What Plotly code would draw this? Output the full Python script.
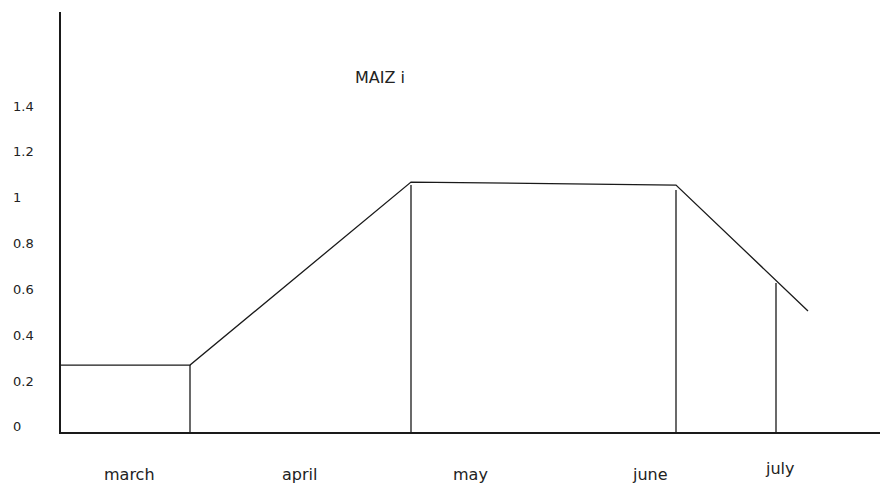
import plotly.graph_objects as go

# profile of the crop coefficient line (x in month-position units)
profile_x = [0.0, 1.29, 3.50, 6.15, 7.47]
profile_y = [0.27, 0.27, 1.068, 1.055, 0.506]

# vertical divider lines: x, top, bottom
div_x = [1.29, 3.50, 6.15, 7.15]
div_top = [0.27, 1.055, 1.034, 0.628]
div_bot = [-0.035, -0.022, -0.022, -0.022]

month_labels = ["march", "april", "may", "june", "july"]
month_x = [0.68, 2.38, 4.09, 5.89, 7.19]
month_y = [-0.102, -0.102, -0.102, -0.102, -0.088]   # paper units below axis

ytick_vals = [0, 0.2, 0.4, 0.6, 0.8, 1, 1.2, 1.4]
ytick_text = ["0", "0.2", "0.4", "0.6", "0.8", "1", "1.2", "1.4"]

title_text = "MAIZ i"
title_x, title_y = 3.19, 1.526

FONT = "DejaVu Sans"
INK = "#1a1a1a"
TXT = "#222222"

fig = go.Figure()
fig.add_trace(go.Scatter(x=profile_x, y=profile_y, mode="lines",
                         line=dict(color=INK, width=1.3), hoverinfo="skip"))
for x, t, b in zip(div_x, div_top, div_bot):
    fig.add_trace(go.Scatter(x=[x, x], y=[b, t], mode="lines",
                             line=dict(color=INK, width=1.3), hoverinfo="skip",
                             cliponaxis=False))

ann = []
for v, txt in zip(ytick_vals, ytick_text):
    ann.append(dict(x=(11 - 61) / 819, xref="paper", y=v, yref="y", text=txt,
                    showarrow=False, xanchor="left", yanchor="middle",
                    font=dict(family=FONT, size=13, color=TXT)))
for lab, x, y in zip(month_labels, month_x, month_y):
    ann.append(dict(x=x, xref="x", y=y, yref="paper", text=lab,
                    showarrow=False, xanchor="center", yanchor="middle",
                    font=dict(family=FONT, size=16, color=TXT)))
ann.append(dict(x=title_x, xref="x", y=title_y, yref="y", text=title_text,
                showarrow=False, xanchor="center", yanchor="middle",
                font=dict(family=FONT, size=16, color=TXT)))

fig.update_layout(
    width=882, height=483,
    margin=dict(l=61, r=2, t=12, b=51),
    paper_bgcolor="white", plot_bgcolor="white",
    showlegend=False,
    annotations=ann,
    xaxis=dict(range=[0, 8.19], showgrid=False, zeroline=False,
               showticklabels=False, ticks="", showline=True,
               linecolor=INK, linewidth=1.5),
    yaxis=dict(range=[-0.022, 1.81], showgrid=False, zeroline=False,
               showticklabels=False, ticks="", showline=True,
               linecolor=INK, linewidth=1.5),
)
fig.write_html("out.html", config={"displayModeBar": False},
               post_script="document.body.style.margin='0';document.body.style.overflow='hidden';")
